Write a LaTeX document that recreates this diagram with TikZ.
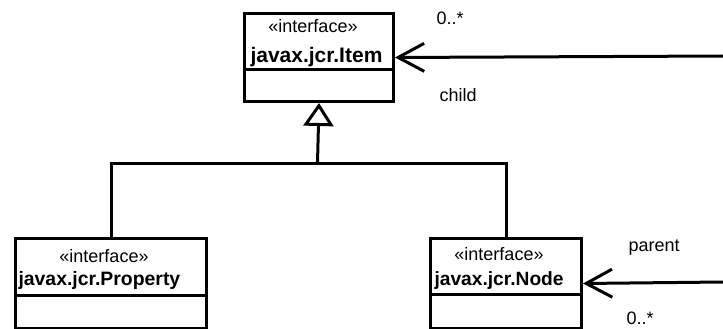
\documentclass[tikz,border=0pt]{standalone}
\usepackage{fontspec}
\setmainfont{Liberation Sans}
\usetikzlibrary{arrows.meta}
\begin{document}
\begin{tikzpicture}[x=1pt,y=-1pt, line width=3pt,
  classbox/.style={draw, rectangle, anchor=north west, inner sep=0pt},
  stereo/.style={anchor=base, inner sep=0pt, font=\fontsize{18}{20}\selectfont},
  cname/.style={anchor=base west, inner sep=0pt, font=\bfseries\fontsize{#1}{22}\selectfont},
  lbl/.style={anchor=base west, inner sep=0pt, font=\fontsize{18}{20}\selectfont},
  assoc/.style={-{Straight Barb[length=26pt,width=28pt]}},
  realize/.style={-{Triangle[open,length=23pt,width=30pt]}}]
\useasboundingbox (0,0) rectangle (723,329);
\clip (0,0) rectangle (723,329);

% class boxes
\node[classbox, minimum width=149pt, minimum height=88pt] (item) at (243,12) {};
\node[classbox, minimum width=191pt, minimum height=90pt] (prop) at (14,237) {};
\node[classbox, minimum width=151pt, minimum height=90pt] (node) at (429,237) {};

% compartment dividers
\draw (item.west |- 0,70) -- (item.east |- 0,70);
\draw (prop.west |- 0,295) -- (prop.east |- 0,295);
\draw (node.west |- 0,294) -- (node.east |- 0,294);

% stereotypes and names
\node[stereo] (itemst) at (313,33) {«interface»};
\node[cname=21] (itemnm) at (249,63) {javax.jcr.Item};
\node[stereo] (propst) at (104,262) {«interface»};
\node[cname=19.4] (propnm) at (17,285) {javax.jcr.Property};
\node[stereo] (nodest) at (499,260) {«interface»};
\node[cname=19.2] (nodenm) at (433,285) {javax.jcr.Node};

% generalization
\coordinate (bus) at (317.5,163);
\draw[realize] (bus) -- (item.south);
\draw (prop.north) |- (bus) -| (node.north);

% associations
\coordinate (e1) at (723,56);
\coordinate (e2) at (723,282);
\draw[assoc] (e1) -- (item.east);
\draw[assoc] (e2) -- (node.east);

% multiplicities and roles
\node[lbl] (m1) at (435,25) {0..*};
\node[lbl] (r1) at (438,102) {child};
\node[lbl] (r2) at (627,251) {parent};
\node[lbl] (m2) at (625,324) {0..*};
\end{tikzpicture}
\end{document}
